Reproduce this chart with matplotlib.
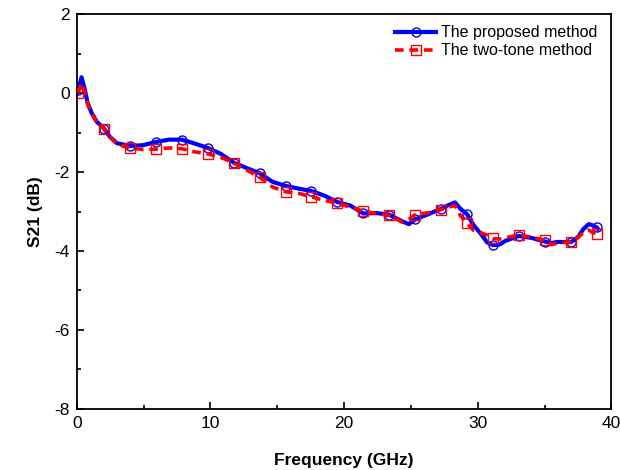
import matplotlib
matplotlib.use("Agg")
import matplotlib.pyplot as plt
from matplotlib.ticker import MultipleLocator

plt.rcParams['font.family'] = ['Liberation Sans', 'DejaVu Sans']
plt.rcParams['axes.unicode_minus'] = False

freq = [0.1, 0.35, 0.6, 0.8, 1.1, 1.5, 2.04, 2.5, 3.0, 3.98, 4.95, 5.92, 6.89, 7.86,
        8.83, 9.8, 10.77, 11.74, 12.71, 13.68, 14.65, 15.62, 16.59, 17.56, 18.53, 19.5,
        20.47, 21.44, 22.41, 23.38, 24.35, 24.85, 25.32, 26.29, 27.26, 27.8, 28.3, 28.7,
        29.2, 29.7, 30.2, 30.7, 31.14, 31.6, 32.1, 33.08, 34.05, 35.02, 35.5, 35.99,
        36.96, 37.5, 37.9, 38.3, 38.6, 38.9, 39.0]

proposed = [0.08, 0.40, 0.08, -0.25, -0.5, -0.73, -0.9, -1.12, -1.27, -1.34, -1.32, -1.24,
            -1.18, -1.18, -1.28, -1.39, -1.54, -1.76, -1.9, -2.03, -2.25, -2.35, -2.42,
            -2.48, -2.6, -2.76, -2.85, -3.05, -3.04, -3.08, -3.25, -3.32, -3.2, -3.07,
            -2.93, -2.84, -2.77, -2.93, -3.07, -3.35, -3.55, -3.78, -3.85, -3.84, -3.74,
            -3.62, -3.67, -3.76, -3.8, -3.77, -3.78, -3.65, -3.45, -3.32, -3.35, -3.4, -3.44]

two_tone = [0.0, 0.25, 0.0, -0.28, -0.52, -0.74, -0.9, -1.12, -1.3, -1.39, -1.43, -1.42,
            -1.39, -1.41, -1.49, -1.54, -1.63, -1.77, -1.95, -2.13, -2.38, -2.5, -2.54,
            -2.63, -2.72, -2.79, -2.89, -2.99, -3.05, -3.1, -3.27, -3.2, -3.08, -3.03,
            -2.95, -2.89, -2.85, -3.1, -3.3, -3.48, -3.53, -3.6, -3.68, -3.7, -3.66,
            -3.6, -3.65, -3.73, -3.84, -3.8, -3.77, -3.66, -3.54, -3.47, -3.53, -3.56, -3.58]

marker_freqs = [0.1, 2.04, 3.98, 5.92, 7.86, 9.8, 11.74, 13.68, 15.62, 17.56, 19.5,
                21.44, 23.38, 25.32, 27.26, 29.2, 31.14, 33.08, 35.02, 36.96, 38.9]
mark_idx = [freq.index(m) for m in marker_freqs]

fig = plt.figure(figsize=(6.2, 4.7), dpi=100)
ax = fig.add_axes([0.124, 0.13, 0.862, 0.84])

ax.plot(freq, proposed, color='#0000ff', lw=3, marker='o', markersize=6.5,
        markerfacecolor='none', markeredgecolor='#0000ff', markeredgewidth=1,
        markevery=mark_idx, label='The proposed method', zorder=2)
ax.plot(freq, two_tone, color='#ff0000', lw=2.6, ls=(0, (2.4, 1.6)), marker='s', markersize=7,
        markerfacecolor='none', markeredgecolor='#ff0000', markeredgewidth=1,
        markevery=mark_idx, label='The two-tone method', zorder=3)

ax.set_xlim(0, 40)
ax.set_ylim(-8, 2)
ax.xaxis.set_major_locator(MultipleLocator(10))
ax.xaxis.set_minor_locator(MultipleLocator(5))
ax.yaxis.set_major_locator(MultipleLocator(2))
ax.yaxis.set_minor_locator(MultipleLocator(1))
ax.tick_params(which='both', direction='in', top=False, right=False, labelsize=12.5, width=1.2)
ax.tick_params(which='major', length=5, pad=5)
ax.tick_params(which='minor', length=3)
for s in ax.spines.values():
    s.set_linewidth(1.3)

ax.set_xlabel('Frequency (GHz)', fontsize=12.5, fontweight='bold', labelpad=16)
ax.set_ylabel('S21 (dB)', fontsize=12.5, fontweight='bold', labelpad=8)

leg = ax.legend(loc='upper right', frameon=False, fontsize=11.5, handlelength=2.6,
                handletextpad=0.3, borderaxespad=0.3, labelspacing=0.2,
                bbox_to_anchor=(0.995, 1.0))

fig.savefig('out.png', dpi=100)
